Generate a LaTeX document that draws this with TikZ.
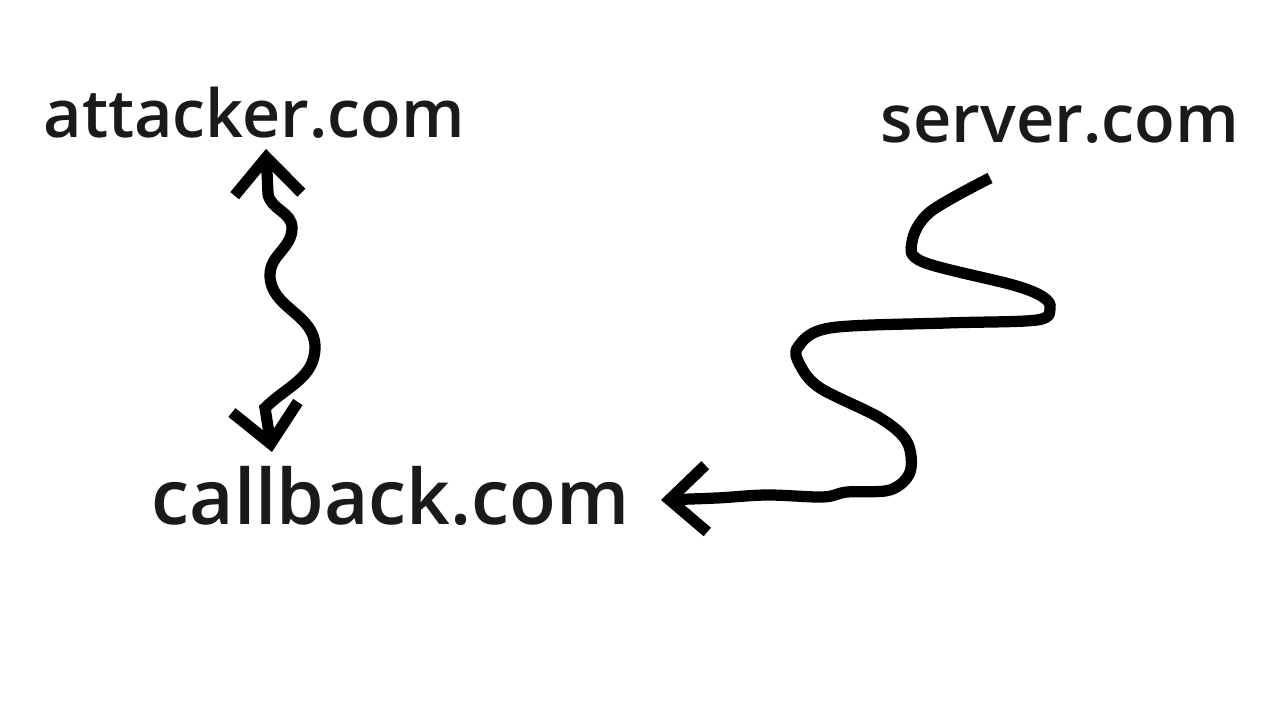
\documentclass[tikz,border=0pt]{standalone}
\usepackage{fontspec}
\setmainfont{Open Sans}[UprightFont={* Semibold}]
\usetikzlibrary{arrows.meta}
\definecolor{inkgray}{RGB}{26,26,26}
\begin{document}
\begin{tikzpicture}[>={Straight Barb[length=10.5pt,width=19pt]},
  site/.style={inkgray, inner sep=0, anchor=base west},
  wire/.style={black, line width=3.2pt}]
\useasboundingbox (0,0) rectangle (12.8,7.2);

\node[site, font=\fontsize{18.9}{22}\selectfont] (attacker) at (0.43,5.82) {attacker.com}; %top left
\node[site, font=\fontsize{19}{22}\selectfont] (server) at (8.80,5.77) {server.com}; %top right
\node[site, font=\fontsize{21.8}{24}\selectfont] (callback) at (1.51,1.95) {callback.com}; %bottom

% attacker <-> callback
\draw[wire, <->] ([shift={(2.23,-0.11)}]attacker.base west) -- (2.68,5.26) to[out=-80, in=90] (2.92,4.92) to[out=-90, in=90] (2.70,4.45)
  to[out=-90, in=90] (3.15,3.73) to[out=-90, in=45] (2.65,3.12) -- ([shift={(1.21,0.73)}]callback.base west);

% server -> callback
\draw[wire, ->] plot[smooth, tension=0.55] coordinates {([shift={(1.10,-0.35)}]server.base west) (9.30,5.08) (9.12,4.78) (9.23,4.58) (10.13,4.35) (10.43,4.23) (10.50,4.12) (10.37,4.00) (9.47,3.97) (8.30,3.92) (7.98,3.73) (8.00,3.55) (8.20,3.32) (8.80,3.02) (9.07,2.78) (9.10,2.48) (8.90,2.30) (8.47,2.28) (8.23,2.23) (7.67,2.25) (7.17,2.22) ([shift={(5.10,0.25)}]callback.base west)};

\end{tikzpicture}
\end{document}
